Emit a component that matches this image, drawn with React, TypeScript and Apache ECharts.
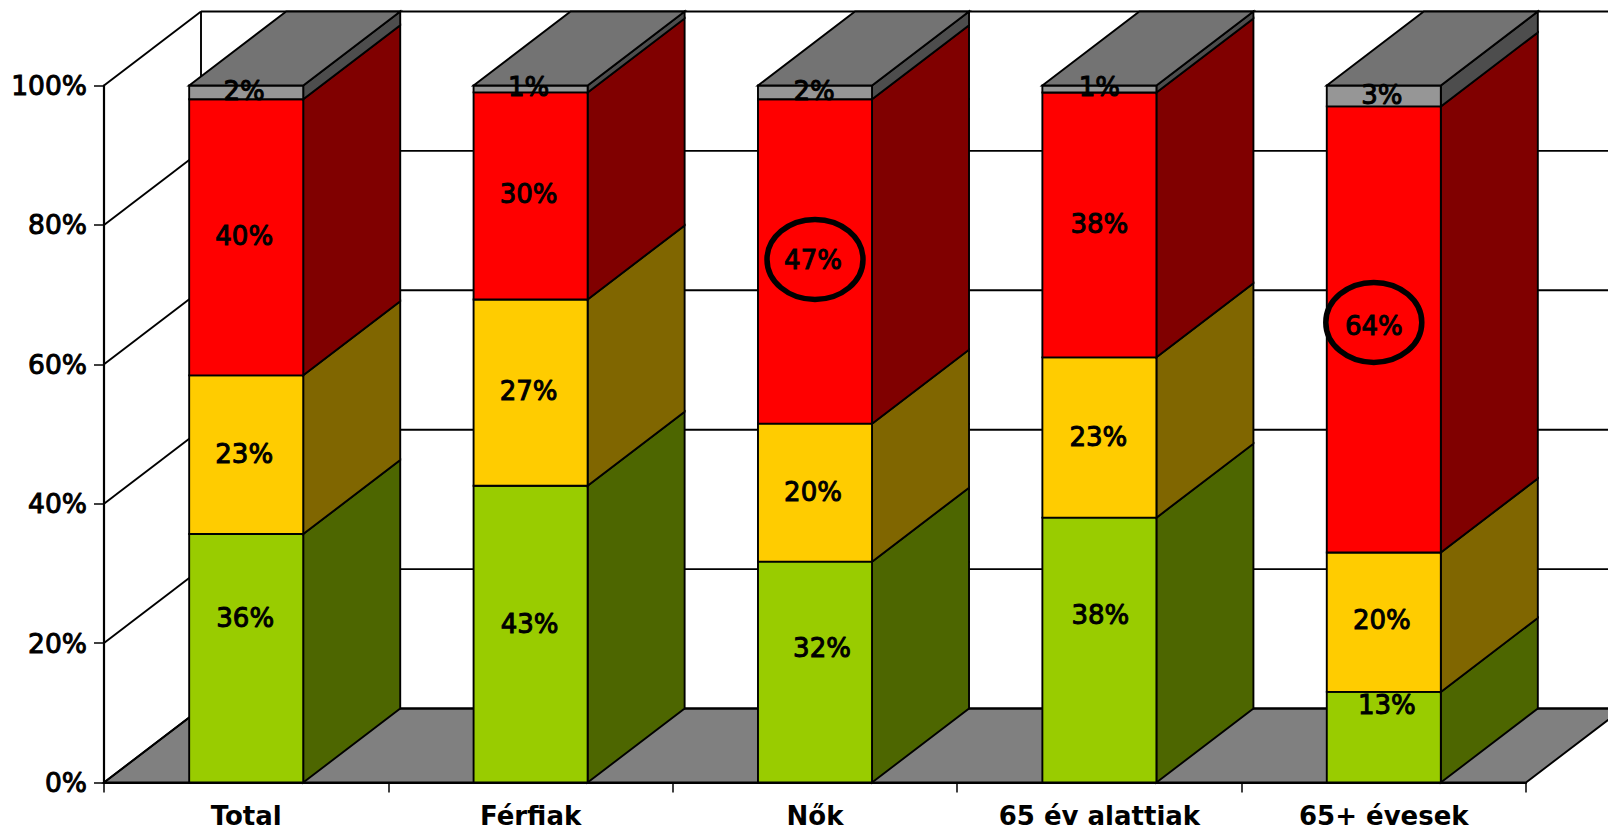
import React, { useEffect, useRef } from "react";
import * as echarts from "echarts";

const categories = ["Total", "Férfiak", "Nők", "65 év alattiak", "65+ évesek"];
const yTicks = [0, 20, 40, 60, 80, 100];
const greenValues = [36, 43, 32, 38, 13];
const yellowValues = [23, 27, 20, 23, 20];
const redValues = [40, 30, 47, 38, 64];
const greyValues = [2, 1, 2, 1, 3];
const circledRed = [false, false, true, false, true];

// Styling only: hand-moved data labels of the original, in pixels
const greenShift = [[-1, -40], [-1, -10], [7, -24], [1, -35], [3, -32]];
const yellowShift = [[-2, -1], [-2, -2], [-2, -1], [-1, 0], [-2, -2]];
const redShift = [[-2, -1], [-2, -2], [-2, -1], [0, -1], [-10, -3]];
const greyShift = [[-2, -1], [-2, -2], [-1, -1], [0, -2], [-2, -1]];
const circleShift = [[0, 0], [0, 0], [0, -2], [0, 0], [-10, -7]];

const DX = 97;
const DY = 74;
const BAR_RATIO = 0.401;
const LW = 1.9;
const FONT = '26px "DejaVu Sans"';

const stacks = [
  { name: "Igen", values: greenValues, front: "#99CC00", side: "#4D6600", shift: greenShift },
  { name: "Inkább igen", values: yellowValues, front: "#FFCC00", side: "#806600", shift: yellowShift },
  { name: "Nem", values: redValues, front: "#FF0000", side: "#800000", shift: redShift },
  { name: "NT/NV", values: greyValues, front: "#969696", side: "#4D4D4D", shift: greyShift },
];

const totals = categories.map((_, i) => stacks.reduce((s, k) => s + k.values[i], 0));

function buildSeriesData(k: number) {
  return categories.map((_, i) => {
    const below = stacks.slice(0, k).reduce((s, t) => s + t.values[i], 0);
    const base = (below / totals[i]) * 100;
    const top = ((below + stacks[k].values[i]) / totals[i]) * 100;
    return [i, base, top, stacks[k].values[i]];
  });
}

const line = { stroke: "#000", lineWidth: LW };

function renderWall(_: any, api: any) {
  const left = api.coord([0, 0]);
  const band = api.size([1, 0])[0];
  const x0 = left[0] - band / 2;
  const x1 = x0 + band * categories.length;
  const y0 = left[1];
  const children: any[] = [];
  children.push({
    type: "polygon",
    shape: { points: [[x0, y0], [x0 + DX, y0 - DY], [x1 + DX, y0 - DY], [x1, y0]] },
    style: { fill: "#808080", ...line },
  });
  const topY = api.coord([0, 100])[1];
  children.push({
    type: "line",
    shape: { x1: x0 + DX, y1: y0 - DY, x2: x0 + DX, y2: topY - DY },
    style: line,
  });
  yTicks.forEach((t) => {
    const y = api.coord([0, t])[1];
    children.push({ type: "line", shape: { x1: x0, y1: y, x2: x0 + DX, y2: y - DY }, style: line });
    children.push({ type: "line", shape: { x1: x0 + DX, y1: y - DY, x2: x1 + DX, y2: y - DY }, style: line });
  });
  return { type: "group", children };
}

function renderStack(k: number) {
  const isTop = k === stacks.length - 1;
  const s = stacks[k];
  return (params: any, api: any) => {
    const i = api.value(0);
    const lo = api.coord([i, api.value(1)]);
    const hi = api.coord([i, api.value(2)]);
    const w = api.size([1, 0])[0] * BAR_RATIO;
    const l = lo[0] - w / 2;
    const r = lo[0] + w / 2;
    const children: any[] = [
      {
        type: "polygon",
        shape: { points: [[r, lo[1]], [r + DX, lo[1] - DY], [r + DX, hi[1] - DY], [r, hi[1]]] },
        style: { fill: s.side, ...line },
      },
      {
        type: "rect",
        shape: { x: l, y: hi[1], width: w, height: lo[1] - hi[1] },
        style: { fill: s.front, ...line },
      },
    ];
    if (isTop) {
      children.push({
        type: "polygon",
        shape: { points: [[l, hi[1]], [l + DX, hi[1] - DY], [r + DX, hi[1] - DY], [r, hi[1]]] },
        style: { fill: "#737373", ...line },
      });
    }
    const cy = (lo[1] + hi[1]) / 2;
    if (k === 2 && circledRed[i]) {
      const c = circleShift[i];
      children.push({
        type: "ellipse",
        shape: { cx: lo[0] + c[0], cy: cy + c[1], rx: 48, ry: 40 },
        style: { fill: "none", stroke: "#000", lineWidth: 5.5 },
        z2: 50,
      });
    }
    children.push({
      type: "text",
      x: lo[0] + s.shift[i][0],
      y: cy + s.shift[i][1],
      z2: 100,
      style: {
        text: `${api.value(3)}%`,
        font: FONT,
        fill: "#000",
        stroke: "#000",
        lineWidth: 1,
        textAlign: "center",
        textVerticalAlign: "middle",
      },
    });
    return { type: "group", children };
  };
}

export default function App() {
  const ref = useRef<HTMLDivElement>(null);
  useEffect(() => {
    const chart = echarts.init(ref.current!, undefined, { renderer: "svg" });
    chart.setOption({
      animation: false,
      backgroundColor: "#fff",
      grid: { left: 104, right: 82, top: 85.5, bottom: 48.5, containLabel: false },
      xAxis: {
        type: "category",
        data: categories,
        boundaryGap: true,
        axisLine: { show: true, onZero: false, lineStyle: { color: "#000", width: 2.2 } },
        axisTick: { show: true, length: 10, alignWithLabel: false, lineStyle: { color: "#000", width: 1.5 } },
        axisLabel: {
          interval: 0,
          margin: 20,
          lineHeight: 27,
          fontFamily: "DejaVu Sans",
          fontWeight: "bold",
          fontSize: 26,
          color: "#000",
        },
        splitLine: { show: false },
        z: 10,
      },
      yAxis: {
        type: "value",
        min: 0,
        max: 100,
        interval: 20,
        axisLine: { show: true, lineStyle: { color: "#000", width: 2.2 } },
        axisTick: { show: true, length: 10, lineStyle: { color: "#000", width: 1.5 } },
        axisLabel: {
          margin: 17,
          formatter: "{value}%",
          fontFamily: "DejaVu Sans",
          fontSize: 26.5,
          color: "#000",
          textBorderColor: "#000",
          textBorderWidth: 1,
        },
        splitLine: { show: false },
        z: 10,
      },
      series: [
        {
          type: "custom",
          name: "wall",
          clip: false,
          z: 1,
          silent: true,
          data: [[0]],
          renderItem: renderWall,
        },
        ...stacks.map((s, k) => ({
          type: "custom",
          name: s.name,
          clip: false,
          z: 2 + k,
          silent: true,
          encode: { x: 0, y: [1, 2] },
          data: buildSeriesData(k),
          renderItem: renderStack(k),
        })),
      ],
    });
    return () => chart.dispose();
  }, []);
  return (
    <div
      ref={ref}
      style={{ position: "absolute", left: 0, top: 0, width: 1608, height: 831, overflow: "hidden" }}
    />
  );
}
